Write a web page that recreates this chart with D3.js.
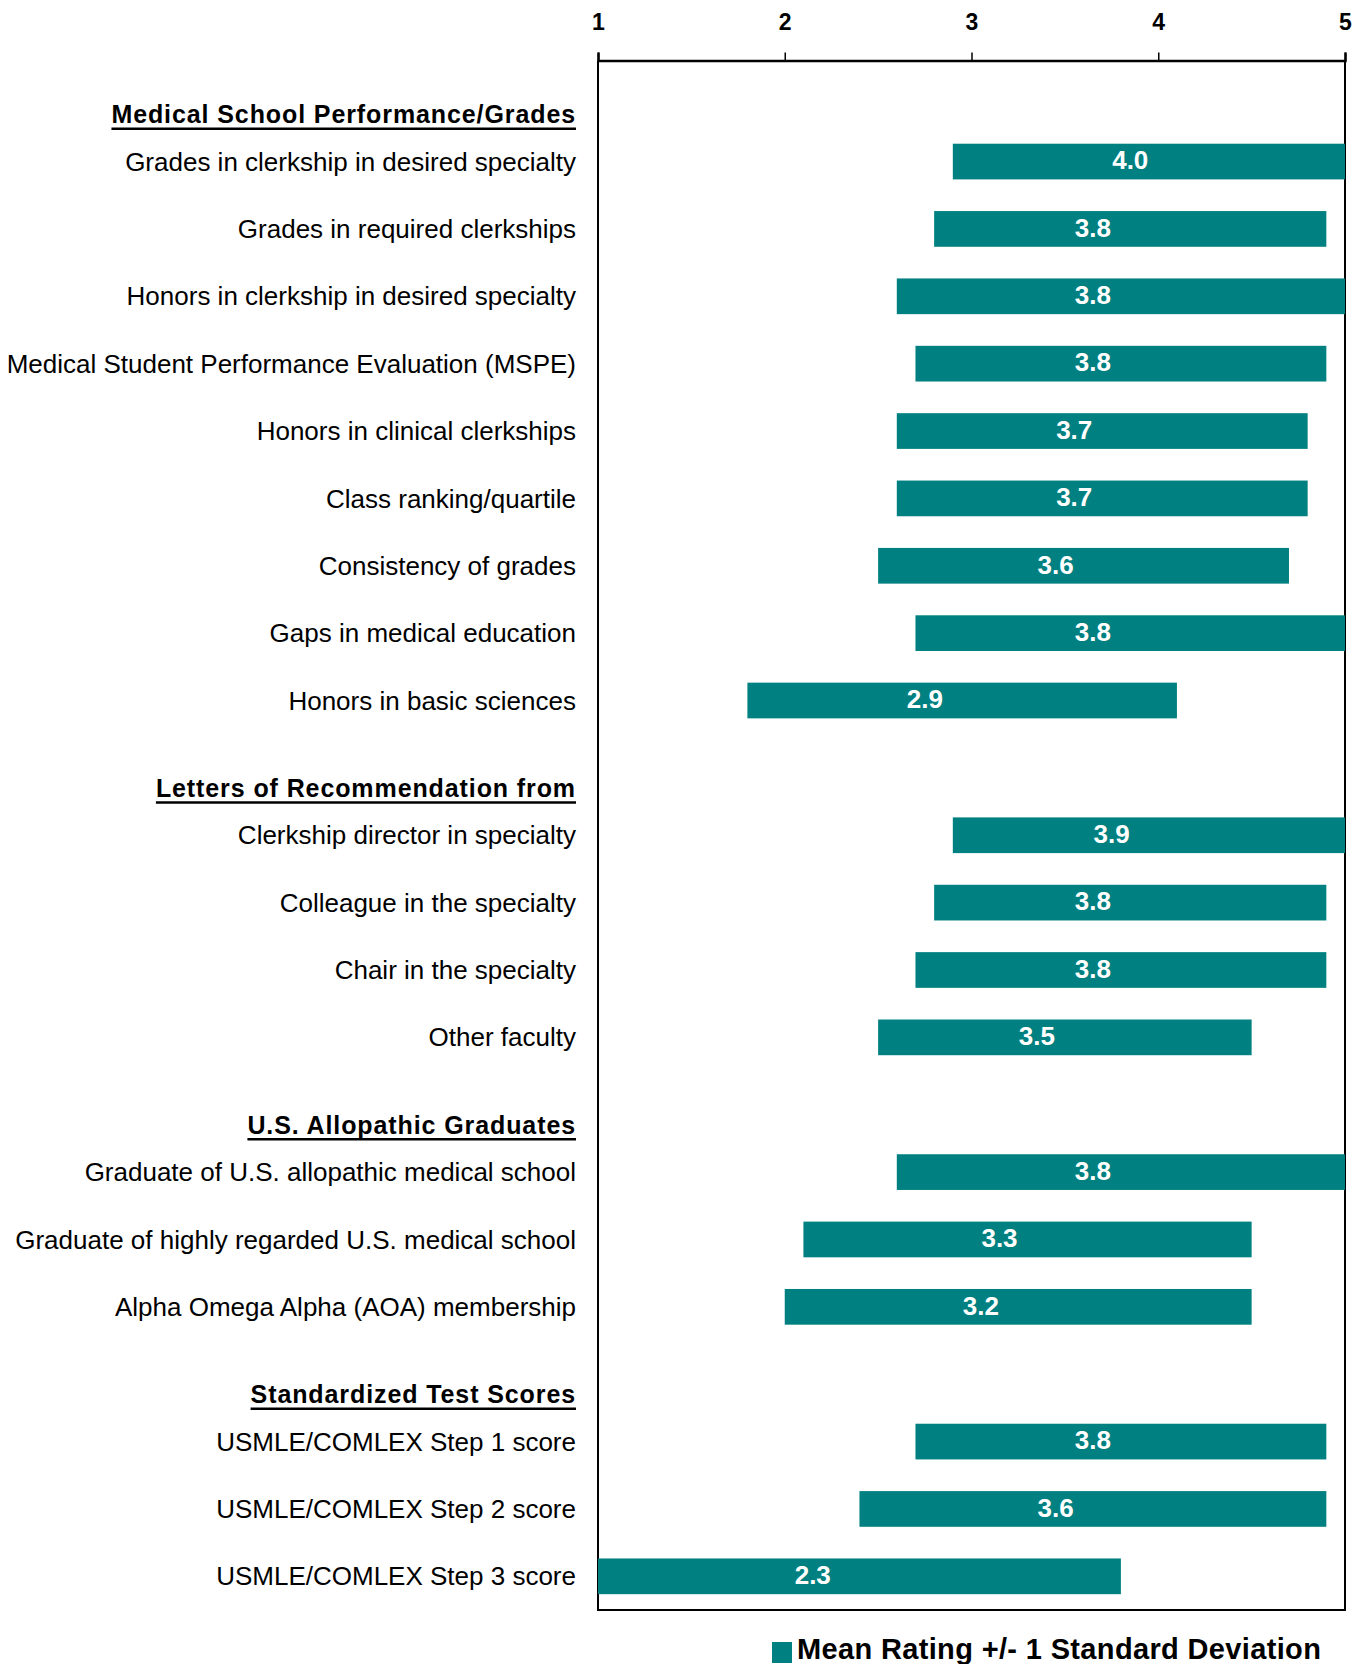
<!DOCTYPE html>
<html>
<head>
<meta charset="utf-8">
<script src="https://cdn.jsdelivr.net/npm/d3@7"></script>
<style>
  html, body { margin: 0; padding: 0; background: #fff; }
  svg { display: block; font-family: "Liberation Sans", Arial, sans-serif; }
</style>
</head>
<body>
<svg id="chart" width="1364" height="1664"></svg>
<script>
// ---- data ----
const groups = [
  "Medical School Performance/Grades",
  "Letters of Recommendation from",
  "U.S. Allopathic Graduates",
  "Standardized Test Scores"
];
const categories = [
  "Grades in clerkship in desired specialty",
  "Grades in required clerkships",
  "Honors in clerkship in desired specialty",
  "Medical Student Performance Evaluation (MSPE)",
  "Honors in clinical clerkships",
  "Class ranking/quartile",
  "Consistency of grades",
  "Gaps in medical education",
  "Honors in basic sciences",
  "Clerkship director in specialty",
  "Colleague in the specialty",
  "Chair in the specialty",
  "Other faculty",
  "Graduate of U.S. allopathic medical school",
  "Graduate of highly regarded U.S. medical school",
  "Alpha Omega Alpha (AOA) membership",
  "USMLE/COMLEX Step 1 score",
  "USMLE/COMLEX Step 2 score",
  "USMLE/COMLEX Step 3 score"
];
const categoryGroup = [0,0,0,0,0,0,0,0,0, 1,1,1,1, 2,2,2, 3,3,3];
const meanRating = [4.0,3.8,3.8,3.8,3.7,3.7,3.6,3.8,2.9, 3.9,3.8,3.8,3.5, 3.8,3.3,3.2, 3.8,3.6,2.3];
const lowerSD    = [2.9,2.8,2.6,2.7,2.6,2.6,2.5,2.7,1.8, 2.9,2.8,2.7,2.5, 2.6,2.1,2.0, 2.7,2.4,1.0];
const upperSD    = [5.0,4.9,5.0,4.9,4.8,4.8,4.7,5.0,4.1, 5.0,4.9,4.9,4.5, 5.0,4.5,4.5, 4.9,4.9,3.8];
const tickValues = [1,2,3,4,5];
const legendLabel = "Mean Rating +/- 1 Standard Deviation";

// ---- layout ----
const svg = d3.select("#chart");
const plotLeft = 598, plotRight = 1345, plotTop = 60.5, plotBottom = 1610;
const teal = "#008080";

// build slots: a header slot before each group, then its rows
const slots = [];
groups.forEach((g, gi) => {
  slots.push({type: "header", label: g});
  categories.forEach((c, i) => {
    if (categoryGroup[i] === gi) slots.push({type: "row", label: c, i});
  });
});

const x = d3.scaleLinear().domain([1, 5]).range([plotLeft, plotRight]).clamp(true);
const y = d3.scaleBand().domain(d3.range(slots.length)).range([plotTop, plotBottom])
  .paddingInner(0.47).paddingOuter(0.235);

// frame
svg.append("path")
  .attr("d", `M${plotLeft},${plotTop}V${plotBottom}H${plotRight}V${plotTop}`)
  .attr("fill", "none").attr("stroke", "#000").attr("stroke-width", 2);

// top axis
const axis = d3.axisTop(x).tickValues(tickValues).tickFormat(d3.format("d"))
  .tickSize(8).tickSizeOuter(8).tickPadding(23);
const ag = svg.append("g").attr("transform", `translate(0,${plotTop})`).call(axis);
ag.select(".domain").attr("stroke-width", 2.5);
ag.selectAll(".tick line").attr("stroke-width", 1.5);
ag.selectAll(".tick text").attr("font-size", 23).attr("font-weight", "bold")
  .attr("font-family", "Liberation Sans, Arial, sans-serif").attr("fill", "#000");

// bars
const rows = slots.map((s, k) => ({...s, k})).filter(s => s.type === "row");
svg.append("g").selectAll("rect").data(rows).join("rect")
  .attr("x", d => x(lowerSD[d.i]))
  .attr("width", d => x(upperSD[d.i]) - x(lowerSD[d.i]))
  .attr("y", d => y(d.k))
  .attr("height", y.bandwidth())
  .attr("fill", teal);

// value labels
svg.append("g").selectAll("text").data(rows).join("text")
  .attr("x", d => x(meanRating[d.i]) - 28)
  .attr("y", d => y(d.k) + y.bandwidth() / 2)
  .attr("dy", "0.3em")
  .attr("text-anchor", "middle")
  .attr("font-size", 26).attr("font-weight", "bold").attr("fill", "#fff")
  .text(d => meanRating[d.i].toFixed(1));

// category labels
svg.append("g").selectAll("text").data(rows).join("text")
  .attr("x", 576)
  .attr("y", d => y(d.k) + y.bandwidth() / 2)
  .attr("dy", "0.35em")
  .attr("text-anchor", "end")
  .attr("font-size", 26).attr("fill", "#000")
  .text(d => d.label);

// group headers (bold, underlined)
const headers = slots.map((s, k) => ({...s, k})).filter(s => s.type === "header");
const hg = svg.append("g").selectAll("g").data(headers).join("g");
hg.append("text")
  .attr("x", 576)
  .attr("y", d => y(d.k) + y.bandwidth() / 2 + 29)
  .attr("text-anchor", "end")
  .attr("font-size", 25).attr("font-weight", "bold").attr("letter-spacing", 0.9)
  .attr("fill", "#000")
  .text(d => d.label)
  .each(function(d) {
    const bb = this.getBBox();
    d3.select(this.parentNode).append("line")
      .attr("x1", bb.x).attr("x2", bb.x + bb.width)
      .attr("y1", y(d.k) + y.bandwidth() / 2 + 34.5)
      .attr("y2", y(d.k) + y.bandwidth() / 2 + 34.5)
      .attr("stroke", "#000").attr("stroke-width", 2.5);
  });

// legend
const lg = svg.append("g").attr("transform", "translate(772,1642)");
lg.append("rect").attr("width", 20).attr("height", 21).attr("fill", teal);
lg.append("text").attr("x", 25).attr("y", 17)
  .attr("font-size", 29).attr("font-weight", "bold").attr("letter-spacing", 0.35)
  .attr("fill", "#000").text(legendLabel);
</script>
</body>
</html>
